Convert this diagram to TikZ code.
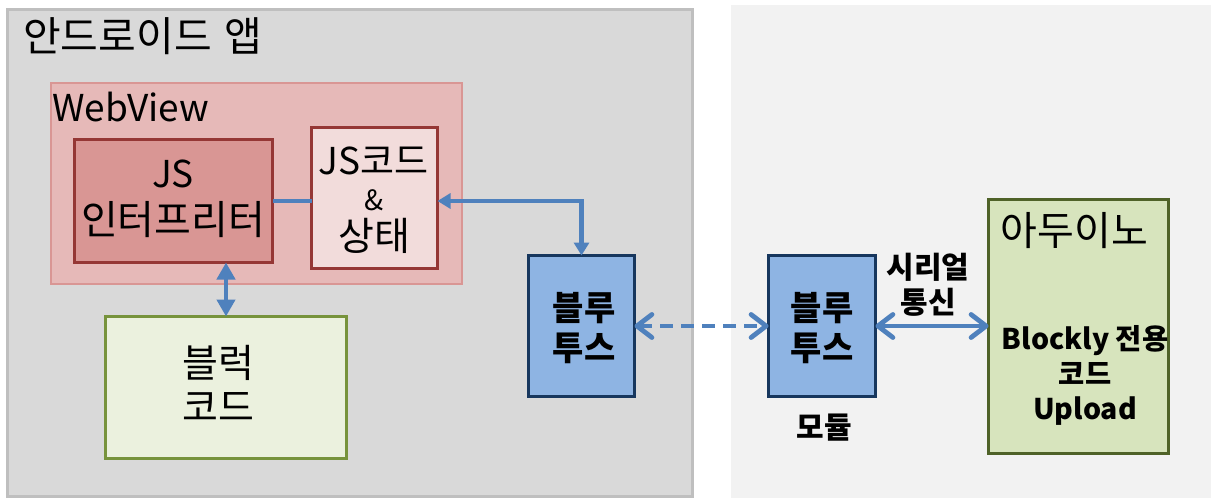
\documentclass[tikz,border=0pt]{standalone}
\usepackage{fontspec}
\setmainfont{Noto Sans CJK KR}
\usetikzlibrary{arrows.meta}
\definecolor{grayfill}{HTML}{D9D9D9}
\definecolor{grayline}{HTML}{BFBFBF}
\definecolor{lightbg}{HTML}{F2F2F2}
\definecolor{webfill}{HTML}{E6B9B8}
\definecolor{webline}{HTML}{D99694}
\definecolor{interpfill}{HTML}{D99694}
\definecolor{darkred}{HTML}{953735}
\definecolor{jsfill}{HTML}{F2DCDB}
\definecolor{bluefill}{HTML}{8EB4E3}
\definecolor{navy}{HTML}{17375E}
\definecolor{connblue}{HTML}{4F81BD}
\definecolor{ardfill}{HTML}{D7E4BD}
\definecolor{ardline}{HTML}{4F6228}
\definecolor{blkfill}{HTML}{EBF1DE}
\definecolor{blkline}{HTML}{77933C}
\tikzset{
  boxnode/.style={rectangle, inner sep=0pt, outer sep=0pt},
  bigtext/.style={font=\fontsize{40}{46}\selectfont, inner sep=0pt, align=center},
  boldtext/.style={font=\bfseries\fontsize{30}{35}\selectfont, inner sep=0pt, align=center},
  conn/.style={draw=connblue, line width=4.8pt},
  bigtri/.tip={Triangle[length=17pt,width=18pt]},
  smalltri/.tip={Triangle[length=13pt,width=15pt]},
  barb/.tip={Straight Barb[length=15pt,width=23pt,line cap=round,line join=round]}
}
\begin{document}
\begin{tikzpicture}[x=1pt,y=-1pt]
\useasboundingbox (0,0) rectangle (1213,500);
% backgrounds
\fill[lightbg] (731,5) rectangle (1211,498);
\draw[grayline, line width=3pt, fill=grayfill] (7.5,9.5) rectangle (692.5,496.5);
\node[bigtext, anchor=west, font=\fontsize{41}{46}\selectfont] (title) at (23,36) {안드로이드\hspace{4pt} 앱};
% WebView
\node[boxnode, draw=webline, fill=webfill, line width=2pt, minimum width=411pt, minimum height=201pt] (webview) at (256.5,183.5) {};
\node[bigtext, anchor=west, font=\fontsize{37}{46}\selectfont] (wvlabel) at (52,107) {WebView};
% JS interpreter
\node[boxnode, draw=darkred, fill=interpfill, line width=3pt, minimum width=198pt, minimum height=123pt] (interp) at (173.5,201) {};
\node[bigtext, font=\fontsize{40}{47}\selectfont] (interptext) at (173,198.5) {{\fontsize{37}{47}\selectfont JS}\\인터프리터};
% JS code & state
\node[boxnode, draw=darkred, fill=jsfill, line width=3pt, minimum width=126pt, minimum height=141pt] (jscode) at (374.5,198) {};
\node[bigtext, font=\fontsize{37}{46}\selectfont] (jscodet1) at (373.5,161) {JS코드};
\node[bigtext, font=\fontsize{28}{30}\selectfont] (jscodet2) at (374,200) {\&};
\node[bigtext, font=\fontsize{39}{46}\selectfont] (jscodet3) at (374,236) {상태};
% block code
\node[boxnode, draw=blkline, fill=blkfill, line width=3pt, minimum width=241pt, minimum height=142pt] (blockcode) at (226,387.5) {};
\node[bigtext, font=\fontsize{39}{44}\selectfont] (blocktext) at (218,383.5) {블럭\\코드};
% bluetooth boxes
\node[boxnode, draw=navy, fill=bluefill, line width=3pt, minimum width=106pt, minimum height=141pt] (blueL) at (581.5,326) {};
\node[boldtext, font=\bfseries\fontsize{34}{40}\selectfont] (blueLtext) at (584,328.5) {블루\\투스};
\node[boxnode, draw=navy, fill=bluefill, line width=3pt, minimum width=107pt, minimum height=141pt] (blueR) at (822,326) {};
\node[boldtext, font=\bfseries\fontsize{34}{40}\selectfont] (blueRtext) at (822,328.5) {블루\\투스};
\node[boldtext] (module) at (824,427.5) {모듈};
% arduino
\node[boxnode, draw=ardline, fill=ardfill, line width=3pt, minimum width=180pt, minimum height=254pt] (arduino) at (1078.5,326.5) {};
\node[bigtext] (ardtitle) at (1074.5,231) {아두이노};
\node[boldtext, font=\bfseries\fontsize{28.5}{35}\selectfont] (ardbody) at (1085,375) {Blockly 전용\\코드\\Upload};
\node[boldtext] (serial) at (928,285) {시리얼\\통신};
% connectors
\draw[conn] (interp.east) -- (interp.east -| jscode.west);
\draw[conn, bigtri-bigtri] (blockcode.north) -- (blockcode.north |- interp.south);
\draw[conn, smalltri-smalltri] (blueL.north) |- (jscode.east |- interp.east);
\draw[conn, dash pattern=on 13pt off 8pt, barb-barb] (blueL.east) -- (blueR.west);
\draw[conn, barb-barb] (blueR.east) -- (blueR.east -| arduino.west);
\end{tikzpicture}
\end{document}
